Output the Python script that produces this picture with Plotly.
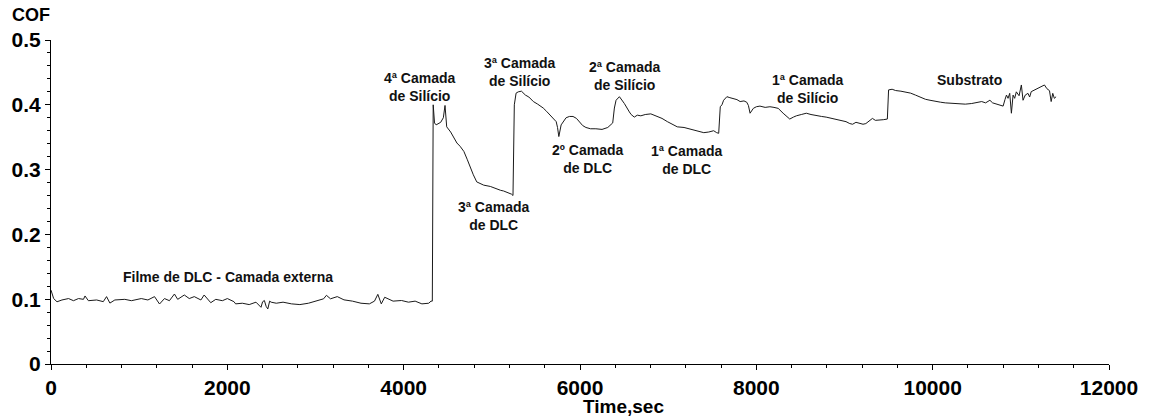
import plotly.graph_objects as go

# ---- data ----
time_s = [
    0, 30, 68, 124, 199, 255, 312, 368, 386, 424, 518, 593, 630, 668, 724, 837, 912,
    1024, 1099, 1174, 1231, 1287, 1343, 1400, 1437, 1512, 1568, 1625, 1700, 1737, 1812,
    1869, 1944, 2000, 2075, 2094, 2170, 2248, 2325, 2382, 2400, 2420, 2440, 2459, 2480,
    2497, 2555, 2632, 2728, 2823, 2920, 3016, 3092, 3124, 3170, 3247, 3323, 3419, 3516,
    3611, 3669, 3707, 3746, 3785, 3880, 3976, 4054, 4130, 4207, 4284, 4310,
    4325, 4335, 4350, 4368, 4420, 4450, 4469, 4488, 4533, 4570, 4604, 4640, 4683, 4720,
    4758, 4790, 4829, 4870, 4908, 4983, 5054, 5100, 5133, 5180, 5225, 5240,
    5255, 5275, 5300, 5336, 5360, 5381, 5420, 5471, 5520, 5583, 5620, 5659, 5700, 5730,
    5745, 5760, 5786, 5842, 5880, 5921, 5960, 5997, 6030, 6067, 6120, 6180, 6250, 6315,
    6371, 6390, 6409, 6447, 6503, 6560, 6580, 6616, 6650, 6690, 6740, 6803, 6840, 6878,
    6930, 6991, 7040, 7103, 7180, 7253, 7330, 7404, 7460, 7516, 7550, 7573,
    7591, 7610, 7629, 7650, 7666, 7700, 7741, 7780, 7816, 7860, 7891, 7910, 7929, 7966,
    8000, 8041, 8100, 8154, 8200, 8248, 8304, 8340, 8379, 8420, 8454, 8510, 8567, 8620,
    8679, 8740, 8792, 8850, 8904, 8960, 9017, 9060, 9092, 9130, 9167, 9210, 9242, 9280,
    9317, 9350, 9392, 9440, 9486,
    9500, 9540, 9580, 9640, 9692, 9750, 9805, 9860, 9918, 9970, 10030, 10090, 10143,
    10220, 10293, 10370, 10443, 10500, 10556, 10600, 10649, 10680, 10705, 10760, 10799,
    10820, 10837, 10855, 10874, 10893, 10912, 10930, 10949, 10980, 11006, 11025, 11050,
    11081, 11100, 11118, 11156, 11190, 11231, 11268, 11295, 11325, 11344, 11362, 11380, 11400,
]
cof = [
    0.114, 0.101, 0.096, 0.0988, 0.101, 0.0977, 0.101, 0.0998, 0.105, 0.0977, 0.0988,
    0.0962, 0.104, 0.094, 0.0988, 0.0998, 0.0977, 0.101, 0.0988, 0.104, 0.0926, 0.101,
    0.0977, 0.108, 0.0998, 0.1065, 0.101, 0.104, 0.0988, 0.1065, 0.0946, 0.0998, 0.0977,
    0.101, 0.0962, 0.0928, 0.0938, 0.0917, 0.0954, 0.0875, 0.096, 0.098, 0.089, 0.0849,
    0.097, 0.0954, 0.0938, 0.0954, 0.0928, 0.0917, 0.0938, 0.097, 0.1006, 0.106, 0.1006,
    0.104, 0.099, 0.097, 0.0938, 0.0928, 0.097, 0.1075, 0.0928, 0.103, 0.097, 0.098,
    0.0954, 0.097, 0.0928, 0.0938, 0.097,
    0.097, 0.400, 0.372, 0.369, 0.373, 0.380, 0.399, 0.366, 0.358, 0.350, 0.341, 0.336,
    0.328, 0.316, 0.302, 0.292, 0.281, 0.278, 0.276, 0.274, 0.270, 0.268, 0.267, 0.265,
    0.262, 0.260,
    0.400, 0.418, 0.420, 0.421, 0.418, 0.415, 0.412, 0.405, 0.401, 0.395, 0.390, 0.384,
    0.379, 0.374, 0.365, 0.351, 0.369, 0.380, 0.382, 0.382, 0.379, 0.374, 0.368, 0.365,
    0.363, 0.363, 0.362, 0.365,
    0.372, 0.395, 0.407, 0.4125, 0.402, 0.389, 0.385, 0.381, 0.384, 0.383, 0.385, 0.386,
    0.384, 0.383, 0.379, 0.374, 0.370, 0.366, 0.365, 0.362, 0.360, 0.357, 0.358, 0.360,
    0.357, 0.356,
    0.397, 0.400, 0.407, 0.410, 0.4125, 0.411, 0.410, 0.408, 0.405, 0.406, 0.404, 0.399,
    0.387, 0.3945, 0.397, 0.398, 0.396, 0.397, 0.396, 0.3945, 0.387, 0.382, 0.378, 0.381,
    0.383, 0.385, 0.387, 0.385, 0.383, 0.382, 0.381, 0.379, 0.378, 0.376, 0.374, 0.371,
    0.370, 0.373, 0.372, 0.370, 0.371, 0.375, 0.379, 0.376, 0.376, 0.377, 0.378,
    0.423, 0.424, 0.422, 0.421, 0.420, 0.418, 0.415, 0.412, 0.4085, 0.407, 0.405, 0.404,
    0.403, 0.402, 0.402, 0.401, 0.402, 0.403, 0.405, 0.403, 0.407, 0.403, 0.402, 0.400,
    0.398, 0.408, 0.415, 0.410, 0.4177, 0.387, 0.415, 0.410, 0.420, 0.414, 0.4306, 0.407,
    0.415, 0.4177, 0.412, 0.4203, 0.423, 0.425, 0.428, 0.4306, 0.425, 0.4218, 0.405,
    0.4177, 0.410, 0.4125,
]

label_texts = [
    "4ª Camada<br>de Silício", "3ª Camada<br>de Silício", "2ª Camada<br>de Silício",
    "3ª Camada<br>de DLC", "2º Camada<br>de DLC", "1ª Camada<br>de DLC",
    "1ª Camada<br>de Silício", "Substrato", "Filme de DLC - Camada externa",
]
label_time = [4180, 5320, 6510, 5030, 6080, 7210, 8590, 10420, 2010]
label_cof = [0.4275, 0.450, 0.444, 0.228, 0.316, 0.315, 0.424, 0.438, 0.134]

x_ticks = [0, 2000, 4000, 6000, 8000, 10000, 12000]
y_ticks = [0, 0.1, 0.2, 0.3, 0.4, 0.5]
y_tick_text = ["0", "0.1", "0.2", "0.3", "0.4", "0.5"]

FONT = "Arial, 'Liberation Sans', sans-serif"

fig = go.Figure()
fig.add_trace(go.Scatter(x=time_s, y=cof, mode="lines",
                         line=dict(color="#1a1a1a", width=1), showlegend=False,
                         hoverinfo="skip"))

for txt, xt, yc in zip(label_texts, label_time, label_cof):
    fig.add_annotation(x=xt, y=yc, xref="x", yref="y", text=f"<b>{txt}</b>",
                       showarrow=False, font=dict(family=FONT, size=14, color="#111"),
                       align="center", xanchor="center", yanchor="middle")

fig.add_annotation(x=-0.0188, y=1.077, xref="paper", yref="paper", text="<b>COF</b>",
                   showarrow=False, xanchor="center", yanchor="middle",
                   font=dict(family=FONT, size=18, color="#000"))
fig.add_annotation(x=0.541, y=-0.13, xref="paper", yref="paper", text="<b>Time,sec</b>",
                   showarrow=False, xanchor="center", yanchor="middle",
                   font=dict(family=FONT, size=19, color="#000"))

fig.update_xaxes(range=[0, 12000], tickvals=x_ticks, ticktext=[f"<b>{v}</b>" for v in x_ticks],
                 showgrid=False, zeroline=False, showline=True, linecolor="#000", linewidth=1,
                 ticks="outside", ticklen=5, tickcolor="#000", tickwidth=1,
                 tickfont=dict(family=FONT, size=21, color="#000"),
                 minor=dict(dtick=400, ticks="outside", ticklen=3, tickcolor="#000", showgrid=False))
fig.update_yaxes(range=[0, 0.5], tickvals=y_ticks, ticktext=[f"<b>{t}</b>" for t in y_tick_text],
                 showgrid=False, zeroline=False, showline=True, linecolor="#000", linewidth=1,
                 ticks="outside", ticklen=5, tickcolor="#000", tickwidth=1,
                 tickfont=dict(family=FONT, size=21, color="#000"),
                 minor=dict(dtick=0.02, ticks="outside", ticklen=3, tickcolor="#000", showgrid=False))

fig.update_layout(width=1150, height=419, margin=dict(l=49, r=35, t=40, b=55),
                  plot_bgcolor="white", paper_bgcolor="white")

fig.write_html("out.html")
